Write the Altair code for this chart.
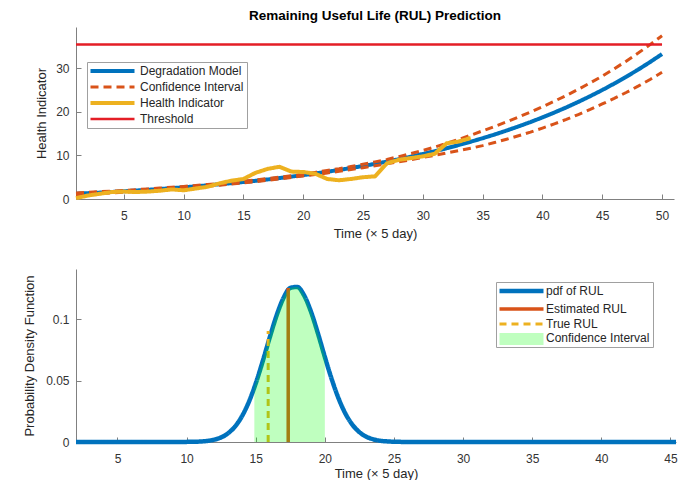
import altair as alt
import pandas as pd

FONT = "Liberation Sans"

# ---------------- top panel data ----------------
t_model = list(range(1, 51))
model = [1.20, 1.34, 1.47, 1.62, 1.78, 1.94, 2.11, 2.30, 2.49, 2.69,
         2.91, 3.14, 3.38, 3.63, 3.90, 4.18, 4.48, 4.80, 5.14, 5.49,
         5.86, 6.26, 6.67, 7.12, 7.58, 8.07, 8.59, 9.14, 9.72, 10.34,
         10.98, 11.67, 12.39, 13.15, 13.96, 14.81, 15.72, 16.67, 17.67, 18.74,
         19.86, 21.04, 22.30, 23.62, 25.02, 26.50, 28.06, 29.71, 31.45, 33.29]
ci_upper = [1.40, 1.54, 1.67, 1.82, 1.98, 2.14, 2.31, 2.50, 2.69, 2.89,
            3.11, 3.34, 3.58, 3.83, 4.10, 4.38, 4.68, 5.00, 5.34, 5.69,
            6.11, 6.56, 6.97, 7.47, 7.98, 8.52, 9.09, 9.74, 10.42, 11.14,
            11.93, 12.77, 13.69, 14.65, 15.66, 16.66, 17.72, 18.82, 19.97, 21.19,
            22.46, 23.79, 25.20, 26.67, 28.22, 29.90, 31.66, 33.51, 35.45, 37.49]
ci_lower = [1.00, 1.14, 1.27, 1.42, 1.58, 1.74, 1.91, 2.10, 2.29, 2.49,
            2.71, 2.94, 3.18, 3.43, 3.70, 3.98, 4.28, 4.60, 4.94, 5.29,
            5.61, 5.96, 6.37, 6.77, 7.18, 7.62, 8.09, 8.54, 9.02, 9.54,
            10.03, 10.57, 11.09, 11.65, 12.26, 12.96, 13.72, 14.52, 15.37, 16.29,
            17.26, 18.29, 19.40, 20.57, 21.82, 23.10, 24.46, 25.91, 27.45, 29.09]
t_health = list(range(1, 35))
health = [0.2, 0.8, 1.2, 1.6, 1.7, 1.6, 1.7, 1.9, 2.2, 2.0,
          2.4, 2.8, 3.6, 4.2, 4.6, 6.0, 6.9, 7.4, 6.3, 6.2,
          5.8, 4.6, 4.3, 4.6, 5.0, 5.2, 8.2, 9.0, 9.4, 9.8,
          10.4, 12.8, 13.2, 14.0]
t_threshold = [1, 50]
threshold = [35.5, 35.5]

top_series = ["Degradation Model", "Confidence Interval", "Health Indicator", "Threshold"]
top_colors = ["#0072BD", "#D95319", "#EDB120", "#E41E26"]
top_dash = [[1, 0], [8, 5], [1, 0], [1, 0]]
top_width = [4, 3, 4, 2.5]
top_x_ticks = [5, 10, 15, 20, 25, 30, 35, 40, 45, 50]
top_y_ticks = [0, 10, 20, 30]

# ---------------- bottom panel data ----------------
t_pdf = [2.0, 9.5, 10.0, 10.5, 11.0, 11.5, 12.0, 12.5, 13.0, 13.5, 14.0, 14.5,
         15.0, 15.5, 16.0, 16.5, 17.0, 17.5, 18.0, 18.5, 19.0, 19.5, 20.0,
         20.5, 21.0, 21.5, 22.0, 22.5, 23.0, 23.5, 24.0, 24.5, 25.0, 25.5,
         26.0, 45.4]
pdf = [0, 0, 0.0001, 0.0002, 0.0004, 0.0009, 0.0019, 0.0038, 0.0071, 0.0126,
       0.0209, 0.0326, 0.0477, 0.0656, 0.0847, 0.1028, 0.1172, 0.1256, 0.1264,
       0.1195, 0.1061, 0.0885, 0.0693, 0.0511, 0.0353, 0.0229, 0.0140, 0.0080,
       0.0043, 0.0022, 0.0010, 0.0005, 0.0002, 0.0001, 0, 0]
t_ci = [14.9, 15.0, 15.5, 16.0, 16.5, 17.0, 17.5, 18.0, 18.5, 19.0, 19.5, 20.0]
pdf_ci = [0.0447, 0.0477, 0.0656, 0.0847, 0.1028, 0.1172, 0.1256, 0.1264,
          0.1195, 0.1061, 0.0885, 0.0693]
t_est = [17.35, 17.35]
est = [0, 0.1255]
t_true = [15.9, 15.9]
true_rul = [0, 0.0905]

bot_series = ["pdf of RUL", "Estimated RUL", "True RUL", "Confidence Interval"]
bot_colors = ["#0072BD", "#D95319", "#EDB120", "#FFFFFF"]
bot_dash = [[1, 0], [1, 0], [7, 5], [1, 0]]
bot_width = [4.5, 3.5, 3, 0]
band_name = ["Confidence Interval"]
band_color = ["#00FF00"]
band_opacity = 0.25
bot_x_ticks = [5, 10, 15, 20, 25, 30, 35, 40, 45]
bot_y_ticks = [0, 0.05, 0.1]


def frame(ts, vs, key, series, grp):
    return pd.DataFrame({"t": ts, "v": vs, key: series, "grp": grp})


def legend(x, y, label_offset):
    return alt.Legend(title=None, orient="none", legendX=x, legendY=y,
                      symbolType="M-2.75,0H19.25", symbolSize=16,
                      labelOffset=label_offset, labelFont=FONT, labelFontSize=12,
                      labelColor="#262626", strokeColor="#a0a0a0",
                      fillColor="white", padding=3, rowPadding=2, zindex=1)


def xaxis(vals, tpad):
    return alt.Axis(values=vals, title="Time (\u00d7 5 day)", grid=False,
                    tickSize={"expr": "-5"}, labelPadding=16, titlePadding=tpad,
                    format="d")


def yaxis(vals, title, pad, fmt):
    return alt.Axis(values=vals, title=title, grid=False,
                    tickSize={"expr": "-5"}, labelPadding=12, titlePadding=pad,
                    format=fmt)


# ---------------- top chart ----------------
leg_top = legend(11, 35, 38)
xt = alt.X("t:Q", scale=alt.Scale(domain=[1, 51], nice=False, zero=False), axis=xaxis(top_x_ticks, 6))
yt = alt.Y("v:Q", scale=alt.Scale(domain=[0, 39.5], nice=False),
           axis=yaxis(top_y_ticks, "Health Indicator", 7, "d"))
ct = alt.Color("curve:N", scale=alt.Scale(domain=top_series, range=top_colors), legend=leg_top)
dt = alt.StrokeDash("curve:N", scale=alt.Scale(domain=top_series, range=top_dash), legend=leg_top)
wt = alt.StrokeWidth("curve:N", scale=alt.Scale(type="ordinal", domain=top_series, range=top_width), legend=leg_top)


def top_layer(df):
    return alt.Chart(df).mark_line(strokeCap="butt").encode(
        x=xt, y=yt, color=ct, strokeDash=dt, strokeWidth=wt, detail="grp:N")


df_model = frame(t_model, model, "curve", "Degradation Model", "m")
df_ci = pd.concat([frame(t_model, ci_upper, "curve", "Confidence Interval", "u"),
                   frame(t_model, ci_lower, "curve", "Confidence Interval", "l")])
df_hi = frame(t_health, health, "curve", "Health Indicator", "h")
df_thr = frame(t_threshold, threshold, "curve", "Threshold", "th")

top = alt.layer(top_layer(df_model), top_layer(df_ci), top_layer(df_hi), top_layer(df_thr)).properties(
    width=598, height=172,
    title=alt.Title("Remaining Useful Life (RUL) Prediction", font=FONT, fontSize=13.5,
                    fontWeight="bold", color="#000000", anchor="middle", frame="group", offset=5))

# ---------------- bottom chart ----------------
leg_bot = legend(420, 13, 35)
leg_band = alt.Legend(title=None, orient="none", legendX=423, legendY=64,
                      symbolType="M-2.75,-3H19.25V3H-2.75Z", symbolSize=16,
                      symbolOpacity=band_opacity, symbolStrokeWidth=0,
                      labelExpr="''", labelFontSize=12, padding=0, zindex=2)
xb = alt.X("t:Q", scale=alt.Scale(domain=[2, 45.4], nice=False, zero=False), axis=xaxis(bot_x_ticks, 3))
yb = alt.Y("v:Q", scale=alt.Scale(domain=[0, 0.141], nice=False),
           axis=yaxis(bot_y_ticks, "Probability Density Function", 9, "~g"))
cb = alt.Color("item:N", scale=alt.Scale(domain=bot_series, range=bot_colors), legend=leg_bot)
db = alt.StrokeDash("item:N", scale=alt.Scale(domain=bot_series, range=bot_dash), legend=leg_bot)
wb = alt.StrokeWidth("item:N", scale=alt.Scale(type="ordinal", domain=bot_series, range=bot_width), legend=leg_bot)
fb = alt.Fill("band:N", scale=alt.Scale(domain=band_name, range=band_color), legend=leg_band)

df_pdf = frame(t_pdf, pdf, "item", "pdf of RUL", "p")
df_est = frame(t_est, est, "item", "Estimated RUL", "e")
df_true = frame(t_true, true_rul, "item", "True RUL", "r")
df_cia = frame(t_ci, pdf_ci, "band", "Confidence Interval", "c")

pdf_line = alt.Chart(df_pdf).mark_line(strokeCap="butt", interpolate="monotone").encode(
    x=xb, y=yb, color=cb, strokeDash=db, strokeWidth=wb)
est_line = alt.Chart(df_est).mark_line(strokeCap="butt").encode(
    x=xb, y=yb, color=cb, strokeDash=db, strokeWidth=wb)
true_line = alt.Chart(df_true).mark_line(strokeCap="butt").encode(
    x=xb, y=yb, color=cb, strokeDash=db, strokeWidth=wb)
ci_area = alt.Chart(df_cia).mark_area(interpolate="monotone", opacity=band_opacity).encode(
    x=xb, y=yb, fill=fb)

bottom = alt.layer(pdf_line, est_line, true_line, ci_area).properties(width=600, height=173)

chart = alt.vconcat(top, bottom, spacing=29).resolve_scale(
    color="independent", strokeDash="independent", strokeWidth="independent", fill="independent"
).resolve_legend(
    color="independent", strokeDash="independent", strokeWidth="independent", fill="independent"
).properties(
    padding={"left": 23, "top": 8, "right": 0, "bottom": 0}
).configure(background="white").configure_view(stroke=None).configure_axis(
    domainColor="#808080", tickColor="#808080", domainWidth=1, tickWidth=1,
    labelFont=FONT, titleFont=FONT, labelFontSize=12, titleFontSize=13,
    labelColor="#333333", titleColor="#262626", titleFontWeight="normal")

chart.save("out.html", embed_options={"renderer": "svg", "actions": False})
